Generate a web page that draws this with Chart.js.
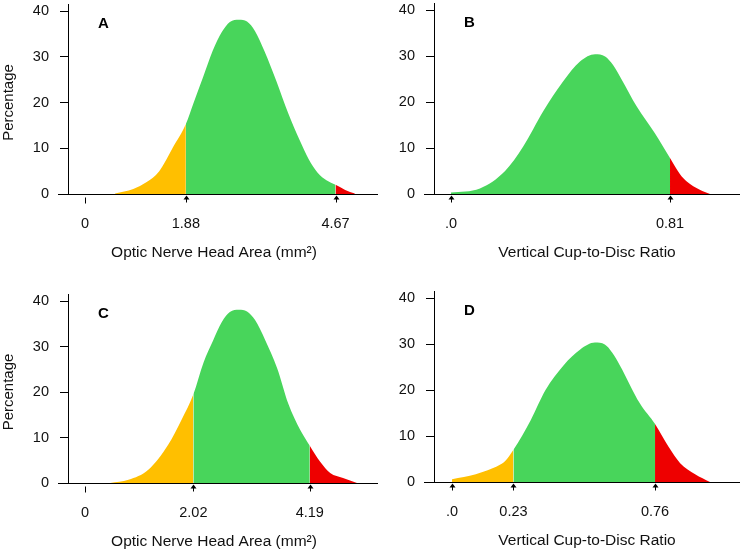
<!DOCTYPE html>
<html>
<head>
<meta charset="utf-8">
<script src="https://cdn.jsdelivr.net/npm/chart.js@4.4.1/dist/chart.umd.min.js"></script>
<style>
  body { margin: 0; background: #fff; }
  #wrap { position: relative; width: 740px; height: 551px; overflow: hidden; }
  #wrap canvas { position: absolute; left: 0; }
</style>
</head>
<body>
<div id="wrap">
  <canvas id="chartA" width="740" height="551" style="top:-30px"></canvas>
  <canvas id="chartB" width="740" height="551" style="top:-30px"></canvas>
  <canvas id="chartC" width="740" height="551" style="top:0"></canvas>
  <canvas id="chartD" width="740" height="551" style="top:0"></canvas>
</div>
<script>
// Panel A - optic nerve head area (mm2), percentage of eyes
const aX = [0.56, 0.9, 1.15, 1.38, 1.64, 1.88, 2.02, 2.2, 2.38, 2.55, 2.7, 2.87, 3.02, 3.17, 3.35, 3.57, 3.79, 4.0, 4.17, 4.34, 4.5, 4.67, 4.85, 5.03];
const aY = [0.1, 1.1, 2.6, 4.9, 10.2, 15.3, 19.8, 25.5, 31.3, 35.4, 37.6, 38.1, 37.7, 35.6, 31.1, 24.6, 17.6, 11.8, 7.6, 4.6, 3.0, 2.0, 0.9, 0.1];
const aCuts = [1.88, 4.67];
const aTicks = [0, 1.88, 4.67];
const aTickLabels = ["0", "1.88", "4.67"];

// Panel B - vertical cup-to-disc ratio
const bX = [0, 0.107, 0.2, 0.267, 0.341, 0.415, 0.477, 0.533, 0.57, 0.6, 0.631, 0.687, 0.754, 0.81, 0.847, 0.872, 0.92, 0.958];
const bY = [0.3, 1.2, 5.0, 10.3, 18.0, 24.5, 28.8, 30.4, 29.9, 28.0, 24.9, 19.0, 13.2, 7.8, 4.3, 2.7, 0.9, 0];
const bCuts = [null, 0.81];
const bTicks = [0, 0.81];
const bTickLabels = [".0", "0.81"];

// Panel C - optic nerve head area (mm2)
const cX = [0.47, 0.81, 1.18, 1.55, 1.8, 2.02, 2.21, 2.39, 2.55, 2.7, 2.87, 3.02, 3.17, 3.36, 3.58, 3.79, 4.01, 4.19, 4.38, 4.57, 4.81, 5.07];
const cY = [0, 0.7, 2.9, 8.4, 13.9, 19.5, 26.5, 31.4, 35.4, 37.6, 38.1, 37.7, 35.8, 31.4, 25.3, 17.4, 11.7, 8.2, 4.7, 2.2, 1.1, 0];
const cCuts = [2.02, 4.19];
const cTicks = [0, 2.02, 4.19];
const cTickLabels = ["0", "2.02", "4.19"];

// Panel D - vertical cup-to-disc ratio
const dX = [0, 0.089, 0.145, 0.2, 0.23, 0.295, 0.35, 0.418, 0.48, 0.535, 0.572, 0.6, 0.628, 0.703, 0.76, 0.81, 0.854, 0.91, 0.966];
const dY = [0.6, 1.7, 2.8, 4.6, 7.0, 13.5, 20.0, 25.4, 28.8, 30.3, 29.9, 28.1, 25.4, 17.1, 12.6, 7.7, 4.1, 1.7, 0];
const dCuts = [0.23, 0.76];
const dTicks = [0, 0.23, 0.76];
const dTickLabels = [".0", "0.23", "0.76"];

const YELLOW = "#FFBF00";
const GREEN = "#48D55B";
const RED = "#EE0000";
const FONT = "'Liberation Sans', Arial, Helvetica, sans-serif";
const ONH_TITLE = "Optic Nerve Head Area (mm\u00B2)";
const CDR_TITLE = "Vertical Cup-to-Disc Ratio";

// top panels sit on canvases moved up 30px, so their paddings are 30px lower down
const panels = [
  { id: "chartA", letter: "A", xs: aX, ys: aY, cuts: aCuts, ticks: aTicks, labels: aTickLabels,
    xTitle: ONH_TITLE, yTitle: true, min: -0.317, max: 5.126, axisRight: 378, zeroTick: true,
    pad: { left: 0, right: 380, top: 41, bottom: 259 } },
  { id: "chartB", letter: "B", xs: bX, ys: bY, cuts: bCuts, ticks: bTicks, labels: bTickLabels,
    xTitle: CDR_TITLE, yTitle: false, min: -0.0629, max: 1.0688, axisRight: 740, zeroTick: false,
    pad: { left: 366, right: 0, top: 40, bottom: 259 } },
  { id: "chartC", letter: "C", xs: cX, ys: cY, cuts: cCuts, ticks: cTicks, labels: cTickLabels,
    xTitle: ONH_TITLE, yTitle: true, min: -0.317, max: 5.126, axisRight: 378, zeroTick: true,
    pad: { left: 0, right: 380, top: 301, bottom: 0 } },
  { id: "chartD", letter: "D", xs: dX, ys: dY, cuts: dCuts, ticks: dTicks, labels: dTickLabels,
    xTitle: CDR_TITLE, yTitle: false, min: -0.0674, max: 1.078, axisRight: 740, zeroTick: false,
    pad: { left: 366, right: 0, top: 298, bottom: 1 } }
];

// axis lines, arrows under the cut-offs and the panel letter
const makeAxesPlugin = (p) => ({
  id: "axes" + p.letter,
  afterDraw(chart) {
    const { ctx, chartArea } = chart;
    const xs = chart.scales.x, ys = chart.scales.y;
    const y0 = Math.round(ys.getPixelForValue(0)) + 0.5;
    const yTop = ys.getPixelForValue(40) - 7;
    const left = Math.round(chartArea.left) + 0.5;
    ctx.save();
    ctx.strokeStyle = "#000";
    ctx.fillStyle = "#000";
    ctx.lineWidth = 1;
    ctx.beginPath();
    ctx.moveTo(chartArea.left - 10, y0);
    ctx.lineTo(p.axisRight, y0);
    ctx.moveTo(left, yTop);
    ctx.lineTo(left, y0);
    ctx.stroke();

    p.ticks.forEach((v) => {
      const px = Math.round(xs.getPixelForValue(v)) + 0.5;
      if (v === 0 && p.zeroTick) {
        ctx.beginPath();
        ctx.moveTo(px, y0 + 3);
        ctx.lineTo(px, y0 + 9);
        ctx.stroke();
        return;
      }
      ctx.beginPath();
      ctx.moveTo(px, y0 + 1);
      ctx.lineTo(px - 3, y0 + 5);
      ctx.lineTo(px + 3, y0 + 5);
      ctx.closePath();
      ctx.fill();
      ctx.beginPath();
      ctx.moveTo(px, y0 + 4);
      ctx.lineTo(px, y0 + 8);
      ctx.stroke();
    });

    ctx.font = "bold 15px " + FONT;
    ctx.textBaseline = "middle";
    ctx.textAlign = "left";
    ctx.fillText(p.letter, chartArea.left + 30, ys.getPixelForValue(40) + 13);
    ctx.restore();
  }
});

const segColor = (cuts) => (c) => {
  const [low, high] = cuts;
  if (high !== null && c.p0.parsed.x >= high) return RED;
  if (low !== null && c.p1.parsed.x <= low) return YELLOW;
  return GREEN;
};

panels.forEach((p) => {
  const ctx = document.getElementById(p.id).getContext("2d");
  new Chart(ctx, {
    type: "line",
    data: {
      datasets: [{
        data: p.xs.map((x, i) => ({ x: x, y: p.ys[i] })),
        fill: "origin",
        backgroundColor: GREEN,
        borderWidth: 0,
        pointRadius: 0,
        cubicInterpolationMode: "monotone",
        clip: false,
        segment: { backgroundColor: segColor(p.cuts) }
      }]
    },
    options: {
      responsive: false,
      animation: false,
      layout: { padding: p.pad },
      plugins: { legend: { display: false }, tooltip: { enabled: false } },
      scales: {
        x: {
          type: "linear",
          min: p.min,
          max: p.max,
          afterBuildTicks: (scale) => { scale.ticks = p.ticks.map((v) => ({ value: v })); },
          afterFit: (scale) => { scale.height = 68; },
          grid: { display: false, drawTicks: false },
          border: { display: false },
          ticks: {
            padding: 21,
            maxRotation: 0,
            autoSkip: false,
            color: "#111",
            font: { family: FONT, size: 14.5 },
            callback: (value, index) => p.labels[index]
          },
          title: {
            display: true,
            text: p.xTitle,
            color: "#111",
            padding: 0,
            font: { family: FONT, size: 15.5 }
          }
        },
        y: {
          min: 0,
          max: 40,
          afterFit: (scale) => { scale.width = 68; },
          grid: { display: true, drawOnChartArea: false, drawTicks: true, tickLength: 8, color: "#000" },
          border: { display: false },
          ticks: {
            stepSize: 10,
            padding: 11,
            color: "#111",
            font: { family: FONT, size: 14.5 }
          },
          title: {
            display: p.yTitle,
            text: "Percentage",
            color: "#111",
            padding: 0,
            font: { family: FONT, size: 15 }
          }
        }
      }
    },
    plugins: [makeAxesPlugin(p)]
  });
});
</script>
</body>
</html>
